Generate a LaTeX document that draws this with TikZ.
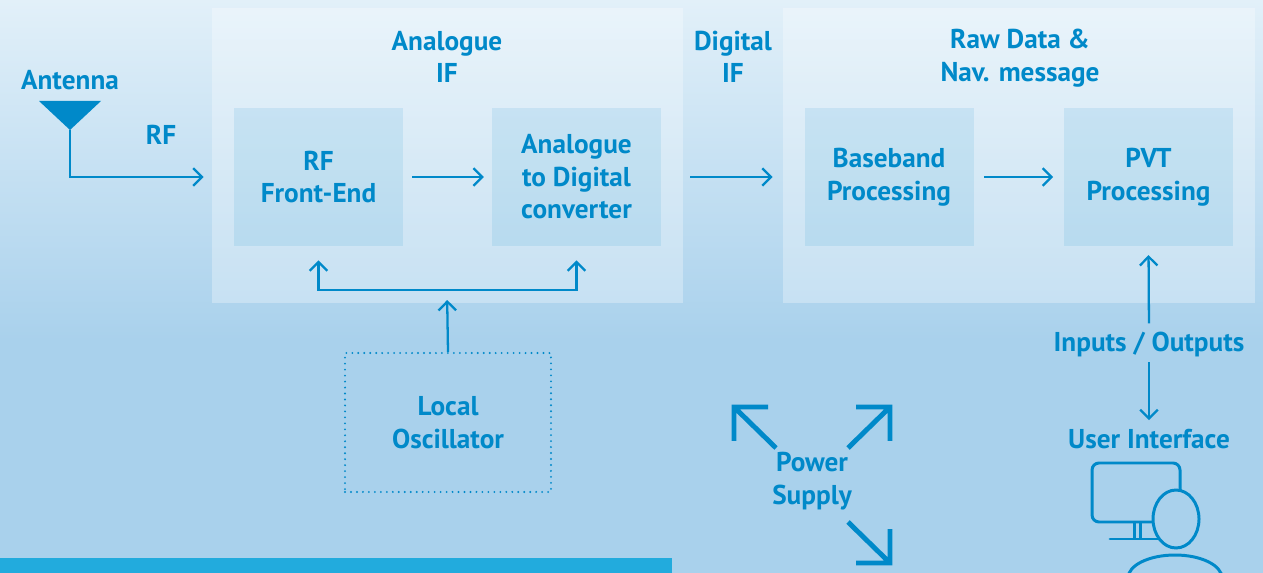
\documentclass[tikz,border=0pt]{standalone}
\usepackage{fontspec}
\setmainfont{PT Sans}
\usetikzlibrary{arrows.meta}
\definecolor{gnssblue}{RGB}{0,137,201}
\definecolor{bgtop}{RGB}{226,240,249}
\definecolor{bgbot}{RGB}{169,209,236}
\definecolor{stripblue}{RGB}{34,171,221}
\begin{document}
\begin{tikzpicture}[>={Straight Barb[length=5pt,width=10pt]}, line join=miter, x=.02cm, y=-.02cm,
	font=\fontsize{15.5}{18.5}\selectfont\bfseries,
	every node/.style={text=gnssblue, align=center, inner sep=0pt},
	panel/.style={fill=white, fill opacity=.3, minimum height=5.9cm},
	blk/.style={fill=gnssblue, fill opacity=.1, text opacity=1, minimum width=3.38cm, minimum height=2.76cm},
	wire/.style={draw=gnssblue, line width=1.3pt}]
	\useasboundingbox (0,0) rectangle (1263,573);
	\shade[top color=bgtop, bottom color=bgbot] (0,0) rectangle (1263,340);
	\fill[bgbot] (0,340) rectangle (1263,573);
	\fill[stripblue] (0,558) rectangle (672,573);
	\node[panel, minimum width=9.42cm] (an) at (447.5,155.5) {};
	\node[panel, minimum width=9.44cm] (raw) at (1019,155.5) {};
	\node[blk] (rf) at (318.5,177) {RF\\Front-End};
	\node[blk] (adc) at (576.5,177) {Analogue\\to Digital\\converter};
	\node[blk] (bb) at (889,177) {Baseband\\Processing};
	\node[blk] (pvt) at (1148.5,177) {PVT\\Processing};
	\node[draw=gnssblue, line width=1.2pt, dash pattern=on 0pt off 3.4pt, line cap=round,
		minimum width=4.12cm, minimum height=2.78cm] (lo) at (448,422.5) {Local\\Oscillator};
	\path (447,57) node (antitle) {Analogue\\IF}
	(733,57) node (diftitle) {Digital\\IF}
	(1020,58) node (rawtitle) {Raw Data \&\\Nav. message}
	(70,80) node (anttxt) {Antenna}
	(161,135) node (rftxt) {RF}
	(812,481) node (ps) {Power\\Supply}
	(1149,345) node (io) {Inputs / Outputs}
	(1149,439) node (ui) {User Interface};
	\fill[gnssblue] (39,101) -- (101,101) -- (70,130) coordinate (ant) -- cycle;
	\coordinate (split) at (447,290);
	\draw[wire,->] (ant) |- ([xshift=-.6cm]rf.west);
	\draw[wire,->,shorten <=5pt,shorten >=4.5pt] (rf.east) -- (adc.west);
	\draw[wire,->,shorten <=4pt,shorten >=5.7pt] (an.east |- adc.east) -- (raw.west |- bb.west);
	\draw[wire,->,shorten <=6pt,shorten >=6pt] (bb.east) -- (pvt.west);
	\draw[wire,<->,shorten <=8pt,shorten >=8pt] (rf.south) |- (split) -| (adc.south);
	\draw[wire,->,shorten >=5.7pt] (lo.north) -- (split);
	\draw[wire,->,shorten <=5pt,shorten >=5pt] (io.north) -- (pvt.south);
	\draw[wire,->,shorten <=2.5pt,shorten >=5pt] (io.south) -- (ui.north);
	\foreach \cx/\cy/\sx/\sy in {734/407/1/1, 890/407/-1/1, 890/563/-1/-1}
	\draw[gnssblue, line width=2.8pt] ({\cx+\sx*34},\cy) -- (\cx,\cy) -- (\cx,{\cy+\sy*34})
	(\cx,\cy) -- ({\cx+\sx*42},{\cy+\sy*41});
	\draw[gnssblue, line width=1.7pt, rounded corners=4pt] (1092,463) rectangle (1180,522);
	\draw[gnssblue, line width=1.7pt] (1134,522) -- (1134,539) (1140,522) -- (1140,539);
	\draw[gnssblue, line width=1.7pt, line cap=round] (1110,539) -- (1165,539);
	\filldraw[fill=bgbot, draw=gnssblue, line width=1.7pt] (1176,519) ellipse [x radius=.46cm, y radius=.58cm];
	\draw[gnssblue, line width=1.7pt] (1175,578) ellipse [x radius=.94cm, y radius=.46cm];
\end{tikzpicture}
\end{document}
